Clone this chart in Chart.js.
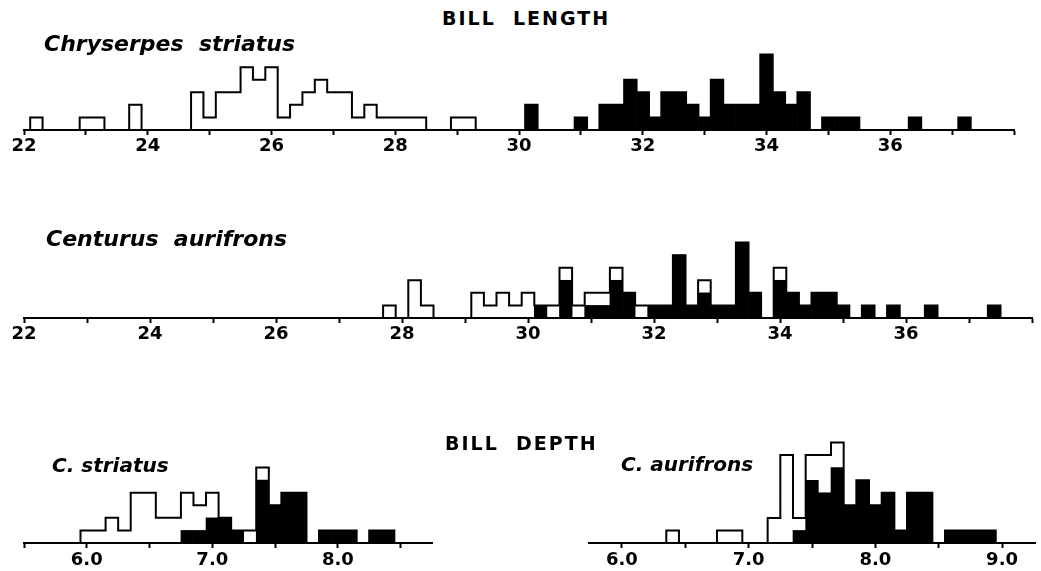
<!DOCTYPE html>
<html>
<head>
<meta charset="utf-8">
<title>Bill length and bill depth</title>
<script src="https://cdn.jsdelivr.net/npm/chart.js@4.4.1/dist/chart.umd.min.js"></script>
<style>
  body { margin: 0; background: #fff; }
  #page { position: relative; width: 1041px; height: 571px; overflow: hidden; background: #fff; }
  canvas { position: absolute; }
  .head, .name { position: absolute; color: #000; white-space: pre; line-height: 1; font-weight: bold; font-family: "DejaVu Sans", sans-serif; }
  .head { font-size: 19px; letter-spacing: 2px; }
  .name { font-style: italic; }
</style>
</head>
<body>
<div id="page">
  <canvas id="lenStriatus" width="1041" height="118" style="left:0;top:40px"></canvas>
  <canvas id="lenAurifrons" width="1041" height="118" style="left:0;top:228px"></canvas>
  <canvas id="depStriatus" width="450" height="118" style="left:0;top:453px"></canvas>
  <canvas id="depAurifrons" width="591" height="143" style="left:450px;top:428px"></canvas>

  <div class="head" style="left:442px;top:9px">BILL  LENGTH</div>
  <div class="name" style="left:44px;top:33px;font-size:22px">Chryserpes  striatus</div>
  <div class="name" style="left:46px;top:228px;font-size:22px">Centurus  aurifrons</div>
  <div class="head" style="left:445px;top:434px">BILL  DEPTH</div>
  <div class="name" style="left:52px;top:455px;font-size:20px">C. striatus</div>
  <div class="name" style="left:621px;top:454px;font-size:20px">C. aurifrons</div>
</div>
<script>
// bill length: 0.2 mm classes, first class centred on 22.0 (10 classes per row)
var lengthStart = 22.0;
var lengthStep = 0.2;
var striatusLenFemales = [
  0, 1, 0, 0, 0, 1, 1, 0, 0, 2,
  0, 0, 0, 0, 3, 1, 3, 3, 5, 4,
  5, 1, 2, 3, 4, 3, 3, 1, 2, 1,
  1, 1, 1, 0, 0, 1, 1, 0, 0, 0,
  0, 0, 0, 0, 0, 0, 0, 0, 0, 0,
  0, 0, 0, 0, 0, 0, 0, 0, 0, 0,
  0, 0, 0, 0, 0, 0, 0, 0, 0, 0,
  0, 0, 0, 0, 0, 0, 0, 0, 0, 0
];
var striatusLenMales = [
  0, 0, 0, 0, 0, 0, 0, 0, 0, 0,
  0, 0, 0, 0, 0, 0, 0, 0, 0, 0,
  0, 0, 0, 0, 0, 0, 0, 0, 0, 0,
  0, 0, 0, 0, 0, 0, 0, 0, 0, 0,
  0, 2, 0, 0, 0, 1, 0, 2, 2, 4,
  3, 1, 3, 3, 2, 1, 4, 2, 2, 2,
  6, 3, 2, 3, 0, 1, 1, 1, 0, 0,
  0, 0, 1, 0, 0, 0, 1, 0, 0, 0
];
var aurifronsLenFemales = [
  0, 0, 0, 0, 0, 0, 0, 0, 0, 0,
  0, 0, 0, 0, 0, 0, 0, 0, 0, 0,
  0, 0, 0, 0, 0, 0, 0, 0, 0, 1,
  0, 3, 1, 0, 0, 0, 2, 1, 2, 1,
  2, 0, 1, 1, 1, 1, 1, 1, 0, 1,
  0, 0, 0, 0, 1, 0, 0, 0, 0, 0,
  1, 0, 0, 0, 0, 0, 0, 0, 0, 0,
  0, 0, 0, 0, 0, 0, 0, 0, 0, 0
];
var aurifronsLenMales = [
  0, 0, 0, 0, 0, 0, 0, 0, 0, 0,
  0, 0, 0, 0, 0, 0, 0, 0, 0, 0,
  0, 0, 0, 0, 0, 0, 0, 0, 0, 0,
  0, 0, 0, 0, 0, 0, 0, 0, 0, 0,
  0, 1, 0, 3, 0, 1, 1, 3, 2, 0,
  1, 1, 5, 1, 2, 1, 1, 6, 2, 0,
  3, 2, 1, 2, 2, 1, 0, 1, 0, 1,
  0, 0, 1, 0, 0, 0, 0, 1, 0, 0
];
var lengthLabels = [22, 24, 26, 28, 30, 32, 34, 36];

// bill depth: 0.1 mm classes, first class centred on 5.8
var depthStart = 5.8;
var depthStep = 0.1;
var striatusDepFemales = [
  0, 0, 1, 1, 2, 1, 4, 4, 2, 2,
  3, 2, 2, 0, 0, 1, 1, 0, 0, 0,
  0, 0, 0, 0, 0, 0, 0, 0, 0, 0
];
var striatusDepMales = [
  0, 0, 0, 0, 0, 0, 0, 0, 0, 0,
  1, 1, 2, 2, 1, 0, 5, 3, 4, 4,
  0, 1, 1, 1, 0, 1, 1, 0, 0, 0
];
var aurifronsDepFemales = [
  0, 0, 0, 0, 0, 0, 1, 0, 0, 0,
  1, 1, 0, 0, 2, 7, 1, 2, 3, 2,
  0, 0, 0, 0, 0, 0, 0, 0, 0, 0,
  0, 0, 0, 0
];
var aurifronsDepMales = [
  0, 0, 0, 0, 0, 0, 0, 0, 0, 0,
  0, 0, 0, 0, 0, 0, 1, 5, 4, 6,
  3, 5, 3, 4, 1, 4, 4, 0, 1, 1,
  1, 1, 0, 0
];
var depthLabels = [6, 7, 8, 9];

function histogram(id, o) {
  var totals = [], males = [];
  for (var i = 0; i < o.females.length; i++) {
    var x = +(o.start + i * o.step).toFixed(2);
    totals.push({ x: x, y: o.females[i] + o.males[i] });
    males.push({ x: x, y: o.males[i] });
  }
  return new Chart(document.getElementById(id), {
    type: 'bar',
    data: {
      datasets: [
        {
          type: 'line',
          data: totals,
          stepped: 'middle',
          borderColor: '#000',
          borderWidth: 2,
          borderJoinStyle: 'miter',
          pointRadius: 0,
          fill: false,
          order: 0
        },
        {
          type: 'bar',
          data: males,
          backgroundColor: '#000',
          borderWidth: 0,
          barPercentage: 1,
          categoryPercentage: 1,
          order: 1
        }
      ]
    },
    options: {
      responsive: false,
      animation: false,
      events: [],
      layout: { padding: { left: o.left, right: o.right, top: 2, bottom: 0 } },
      plugins: { legend: { display: false }, tooltip: { enabled: false } },
      scales: {
        x: {
          type: 'linear',
          min: o.min,
          max: o.max,
          offset: false,
          grid: { drawOnChartArea: false, drawTicks: true, tickLength: 5, tickWidth: 2, tickColor: '#000', offset: false },
          border: { display: true, color: '#000', width: 2 },
          ticks: {
            stepSize: o.tickStep,
            autoSkip: false,
            maxRotation: 0,
            includeBounds: false,
            padding: o.pad,
            color: '#000',
            font: { family: 'DejaVu Sans', size: 18, weight: 'bold' },
            callback: function (value) {
              return o.labels.indexOf(value) >= 0 ? o.fmt(value) : '';
            }
          },
          afterFit: function (scale) { scale.height = 28; }
        },
        y: { display: false, min: 0, max: o.ymax }
      }
    }
  });
}

histogram('lenStriatus', {
  start: lengthStart, step: lengthStep, females: striatusLenFemales, males: striatusLenMales,
  min: 22, max: 38, tickStep: 1, labels: lengthLabels, fmt: String, pad: 1,
  left: 24, right: 27, ymax: 7
});
histogram('lenAurifrons', {
  start: lengthStart, step: lengthStep, females: aurifronsLenFemales, males: aurifronsLenMales,
  min: 22, max: 38, tickStep: 1, labels: lengthLabels, fmt: String, pad: 1,
  left: 24, right: 9, ymax: 7
});
histogram('depStriatus', {
  start: depthStart, step: depthStep, females: striatusDepFemales, males: striatusDepMales,
  min: 5.5, max: 8.75, tickStep: 0.5, labels: depthLabels, fmt: function (v) { return v.toFixed(1); }, pad: 2,
  left: 24, right: 18, ymax: 7
});
histogram('depAurifrons', {
  start: depthStart, step: depthStep, females: aurifronsDepFemales, males: aurifronsDepMales,
  min: 5.74, max: 9.26, tickStep: 0.5, labels: depthLabels, fmt: function (v) { return v.toFixed(1); }, pad: 2,
  left: 139, right: 6, ymax: 9
});
</script>
</body>
</html>
